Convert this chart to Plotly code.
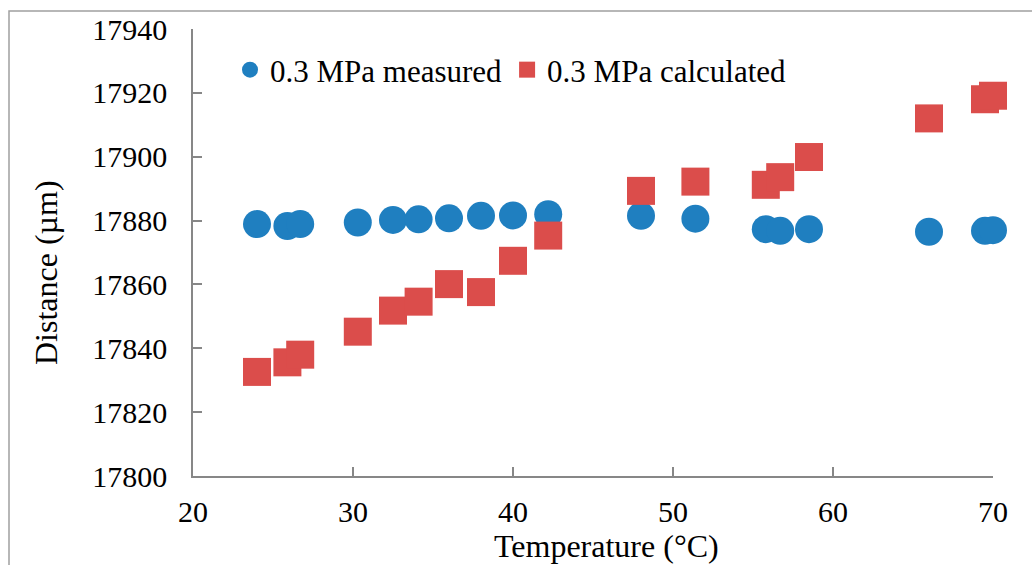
import plotly.graph_objects as go

# Temperature (°C)
temp_measured = [24.0, 25.9, 26.7, 30.3, 32.5, 34.1, 36.0, 38.0, 40.0, 42.2,
                 48.0, 51.4, 55.8, 56.7, 58.5, 66.0, 69.5, 70.0]
dist_measured = [17878.9, 17878.3, 17878.9, 17879.4, 17880.2, 17880.4, 17880.7, 17881.5, 17881.6, 17882.0,
                 17881.5, 17880.6, 17877.3, 17876.8, 17877.3, 17876.5, 17876.8, 17877.0]

temp_calc = [24.0, 25.9, 26.7, 30.3, 32.5, 34.1, 36.0, 38.0, 40.0, 42.2,
             48.0, 51.4, 55.8, 56.7, 58.5, 66.0, 69.5, 70.0]
dist_calc = [17832.6, 17835.6, 17838.0, 17845.2, 17851.8, 17854.6, 17860.1, 17857.6, 17867.4, 17875.3,
             17889.3, 17892.2, 17891.2, 17893.6, 17899.9, 17912.0, 17918.0, 17919.1]

x_ticks = [20, 30, 40, 50, 60, 70]
y_ticks = [17800, 17820, 17840, 17860, 17880, 17900, 17920, 17940]

BLUE = "#1F7FC0"
RED = "#DB4D4B"
AXIS = "#878787"
FONT = "Liberation Serif, 'Times New Roman', 'DejaVu Serif', serif"

fig = go.Figure()
fig.add_trace(go.Scatter(
    x=temp_measured, y=dist_measured, mode="markers", name="0.3 MPa measured",
    marker=dict(symbol="circle", size=28, color=BLUE, line=dict(width=0)),
    cliponaxis=False))
fig.add_trace(go.Scatter(
    x=temp_calc, y=dist_calc, mode="markers", name="0.3 MPa calculated",
    marker=dict(symbol="square", size=28, color=RED, line=dict(width=0)),
    cliponaxis=False))

L, R, T, B = 193, 39, 29, 89
W, H = 1032, 565
pw, ph = W - L - R, H - T - B

def px_x(px):
    return (px - L) / pw

def px_y(py):
    return 1 - (py - T) / ph

axis_common = dict(
    showline=True, linecolor=AXIS, linewidth=1.5, mirror=False,
    ticks="inside", ticklen=9, tickwidth=1.5, tickcolor=AXIS,
    showgrid=False, zeroline=False,
    tickfont=dict(family=FONT, size=30, color="black"),
)

fig.update_xaxes(range=[20, 70], tickvals=x_ticks, ticktext=[str(v) for v in x_ticks],
                 ticklabelstandoff=8, **axis_common)
fig.update_yaxes(range=[17800, 17940], tickvals=y_ticks, ticktext=[str(v) for v in y_ticks],
                 ticklabelstandoff=18, **axis_common)

fig.add_annotation(text="Temperature (°C)", xref="paper", yref="paper",
                   x=px_x(606), y=px_y(546), xanchor="center", yanchor="middle",
                   showarrow=False, font=dict(family=FONT, size=32, color="black"))
fig.add_annotation(text="Distance (µm)", xref="paper", yref="paper",
                   x=px_x(46), y=px_y(273), xanchor="center", yanchor="middle",
                   textangle=-90, showarrow=False,
                   font=dict(family=FONT, size=32, color="black"))

# outer chart frame
fig.add_shape(type="rect", xref="paper", yref="paper",
              x0=px_x(9), x1=px_x(1040), y0=px_y(580), y1=px_y(11),
              line=dict(color="#A0A0A0", width=1.5), fillcolor="rgba(0,0,0,0)", layer="below")

fig.update_layout(
    width=W, height=H,
    margin=dict(l=L, r=R, t=T, b=B, autoexpand=False),
    paper_bgcolor="white", plot_bgcolor="white",
    font=dict(family=FONT, color="black"),
    showlegend=True,
    legend=dict(orientation="h", x=px_x(230), y=px_y(70), xanchor="left", yanchor="middle",
                font=dict(family=FONT, size=31, color="black"),
                bgcolor="rgba(0,0,0,0)", itemwidth=30, tracegroupgap=0),
)

fig.write_html("out.html")
